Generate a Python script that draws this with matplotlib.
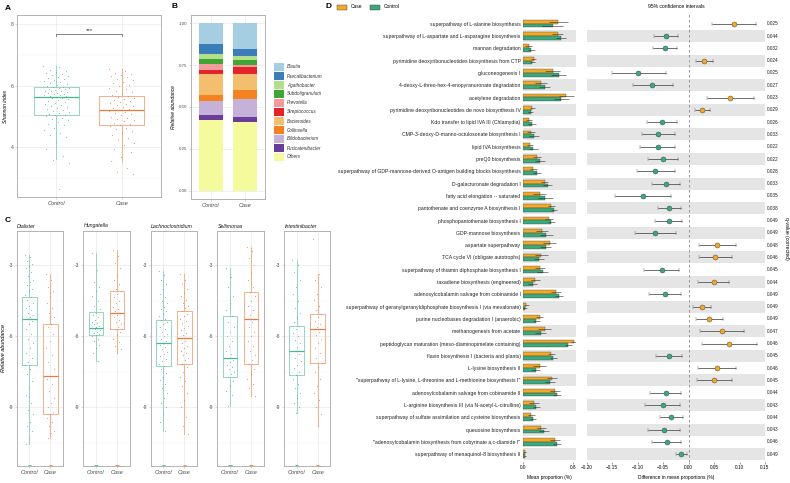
import numpy as np
import matplotlib
matplotlib.use('Agg')
import matplotlib.pyplot as plt
from matplotlib.patches import Rectangle
from matplotlib.ticker import MultipleLocator
import matplotlib.transforms as mtransforms

plt.rcParams['font.family'] = ['Liberation Sans', 'DejaVu Sans']

# ---------------- data ----------------
# A: Shannon index
a_groups = ['Control', 'Case']
a_ctrl_box = [3.6, 5.03, 5.62, 5.95, 6.64]   # whislo, q1, med, q3, whishi
a_case_box = [3.5, 4.71, 5.21, 5.67, 6.53]
a_ctrl = [6.64, 6.6, 6.52, 6.48, 6.45, 6.4, 6.38, 6.33, 6.3, 6.27, 6.24, 6.2, 6.18, 6.15, 6.12, 6.1,
          6.06, 6.03, 6.0, 5.97, 5.95, 5.93, 5.91, 5.9, 5.88, 5.86, 5.84, 5.83, 5.81, 5.79, 5.77, 5.75,
          5.73, 5.71, 5.7, 5.68, 5.66, 5.65, 5.63, 5.62, 5.6, 5.58, 5.55, 5.52, 5.5, 5.47, 5.44, 5.41,
          5.38, 5.35, 5.31, 5.28, 5.25, 5.21, 5.18, 5.14, 5.1, 5.07, 5.05, 5.03, 5.0, 4.96, 4.91, 4.87,
          4.82, 4.76, 4.7, 4.62, 4.55, 4.47, 4.4, 4.33, 4.17, 3.95, 3.72, 3.58, 3.49, 2.62]
a_case = [6.53, 6.48, 6.42, 6.38, 6.35, 6.3, 6.27, 6.22, 6.18, 6.13, 6.08, 6.03, 5.98, 5.93, 5.88, 5.83,
          5.78, 5.73, 5.7, 5.67, 5.64, 5.6, 5.57, 5.53, 5.5, 5.47, 5.44, 5.4, 5.37, 5.34, 5.3, 5.27,
          5.24, 5.21, 5.18, 5.15, 5.11, 5.07, 5.03, 4.99, 4.95, 4.91, 4.87, 4.83, 4.79, 4.75, 4.72,
          4.68, 4.62, 4.57, 4.51, 4.45, 4.38, 4.3, 4.22, 4.13, 4.05, 3.95, 3.82, 3.68, 3.55, 3.32, 3.2, 3.12]

# B: composition
b_taxa = ['Blautia', 'Faecalibacterium', 'Agathobacter', 'Subdoligranulum', 'Prevotella',
          'Streptococcus', 'Bacteroides', 'Collinsella', 'Bifidobacterium', 'Fusicatenibacter', 'Others']
b_ctrl = [0.126, 0.056, 0.030, 0.028, 0.040, 0.020, 0.131, 0.034, 0.084, 0.030, 0.421]
b_case = [0.156, 0.038, 0.024, 0.028, 0.015, 0.044, 0.092, 0.056, 0.106, 0.032, 0.409]
b_colors = ['#A6CEE3', '#3A7DB8', '#B2DF8A', '#3FA535', '#F39A9B', '#E3242B',
            '#F3BE6E', '#F58220', '#C6B1D8', '#6A3D9A', '#F5FA9C']

# C: genera (log relative abundance)
c_genera = ['Dialister', 'Hungatella', 'Lachnoclostridium', 'Sellimonas', 'Intestinibacter']
c_ctrl_box = [[-10.56, -7.23, -5.25, -4.35, -2.56],
              [-7.04, -5.93, -5.63, -4.99, -2.49],
              [-10.01, -7.27, -6.30, -5.32, -3.24],
              [-8.93, -7.71, -6.92, -5.15, -3.13],
              [-9.25, -7.65, -6.62, -5.55, -2.78]]
c_case_box = [[-10.28, -9.30, -7.68, -5.49, -3.37],
              [-6.72, -5.70, -5.03, -4.07, -2.37],
              [-10.11, -7.15, -6.08, -4.94, -3.38],
              [-8.52, -7.18, -5.25, -4.14, -2.21],
              [-9.79, -7.14, -5.70, -5.04, -3.37]]
dia_ctrl = [-2.56, -2.65, -2.8, -2.95, -3.05, -3.1, -3.3, -3.45, -3.6, -3.7, -3.85, -4.0, -4.1, -4.25,
            -4.35, -4.45, -4.6, -4.7, -4.8, -4.9, -5.0, -5.1, -5.2, -5.25, -5.35, -5.5, -5.7, -5.9,
            -6.1, -6.3, -6.5, -6.7, -6.9, -7.1, -7.23, -7.4, -7.6, -7.9, -8.2, -8.5, -8.8, -9.1,
            -9.3, -9.6, -9.8, -10.0, -10.3, -10.56]
dia_case = [-3.37, -3.6, -3.9, -4.1, -4.3, -4.6, -4.8, -5.0, -5.2, -5.49, -5.6, -5.9, -6.2, -6.5,
            -6.8, -7.1, -7.4, -7.68, -7.8, -8.0, -8.3, -8.6, -8.8, -9.0, -9.2, -9.3, -9.45, -9.6,
            -9.8, -10.0, -10.1, -10.28]
hun_ctrl = [-2.49, -3.2, -3.7, -3.9, -4.1, -4.3, -4.5, -4.7, -4.85, -5.0, -5.1, -5.2, -5.3, -5.4,
            -5.45, -5.5, -5.55, -5.6, -5.63, -5.66, -5.7, -5.75, -5.8, -5.85, -5.9, -5.93, -6.0,
            -6.1, -6.2, -6.35, -6.5, -6.7, -7.04]
hun_case = [-2.37, -2.6, -2.9, -3.1, -3.4, -3.6, -3.8, -4.0, -4.07, -4.2, -4.35, -4.5, -4.6, -4.75,
            -4.85, -4.95, -5.03, -5.1, -5.2, -5.3, -5.4, -5.5, -5.6, -5.7, -5.8, -5.95, -6.1,
            -6.25, -6.4, -6.55, -6.72]
lac_ctrl = [-3.24, -3.4, -3.6, -3.8, -4.0, -4.2, -4.35, -4.5, -4.6, -4.75, -4.85, -4.95, -5.05,
            -5.15, -5.25, -5.32, -5.4, -5.5, -5.6, -5.7, -5.8, -5.9, -6.0, -6.1, -6.2, -6.3, -6.35,
            -6.45, -6.55, -6.65, -6.75, -6.85, -6.95, -7.05, -7.15, -7.27, -7.4, -7.55, -7.7,
            -7.85, -8.0, -8.2, -8.4, -8.6, -8.8, -9.0, -9.3, -9.6, -10.01]
lac_case = [-3.38, -3.6, -3.8, -4.0, -4.15, -4.3, -4.45, -4.6, -4.7, -4.8, -4.94, -5.05, -5.15,
            -5.25, -5.35, -5.45, -5.55, -5.65, -5.75, -5.85, -5.95, -6.08, -6.2, -6.3, -6.4, -6.5,
            -6.6, -6.7, -6.8, -6.9, -7.0, -7.15, -7.3, -7.5, -7.7, -7.9, -8.1, -8.4, -8.7, -9.0,
            -9.4, -9.8, -10.11]
sel_ctrl = [-3.13, -3.5, -3.9, -4.3, -4.6, -4.9, -5.15, -5.4, -5.6, -5.8, -6.0, -6.2, -6.4, -6.6,
            -6.75, -6.92, -7.0, -7.1, -7.2, -7.3, -7.4, -7.5, -7.6, -7.71, -7.9, -8.1, -8.3, -8.5, -8.93]
sel_case = [-2.21, -2.4, -2.7, -3.0, -3.3, -3.6, -3.9, -4.14, -4.3, -4.5, -4.7, -4.9, -5.1, -5.25,
            -5.4, -5.6, -5.8, -6.0, -6.2, -6.4, -6.6, -6.8, -7.0, -7.18, -7.4, -7.6, -7.8, -8.0,
            -8.2, -8.52]
int_ctrl = [-2.78, -3.0, -3.3, -3.6, -3.9, -4.2, -4.5, -4.8, -5.0, -5.2, -5.4, -5.55, -5.7, -5.85,
            -6.0, -6.15, -6.3, -6.45, -6.62, -6.75, -6.9, -7.05, -7.2, -7.35, -7.5, -7.65, -7.8,
            -8.0, -8.2, -8.4, -8.6, -8.8, -9.0, -9.25]
int_case = [-1.9, -3.37, -3.6, -3.9, -4.2, -4.45, -4.7, -4.9, -5.04, -5.2, -5.35, -5.5, -5.6, -5.7,
            -5.8, -5.95, -6.1, -6.3, -6.5, -6.7, -6.9, -7.14, -7.3, -7.5, -7.8, -8.1, -8.4, -8.7,
            -9.0, -9.3, -9.79]
c_ctrl_pts = [dia_ctrl, hun_ctrl, lac_ctrl, sel_ctrl, int_ctrl]
c_case_pts = [dia_case, hun_case, lac_case, sel_case, int_case]
c_floor = -11.42   # zero-abundance samples drawn on the panel floor

# D: pathways
pathways = [
    'superpathway of L-alanine biosynthesis',
    'superpathway of L-aspartate and L-asparagine biosynthesis',
    'mannan degradation',
    'pyrimidine deoxyribonucleotides biosynthesis from CTP',
    'gluconeogenesis I',
    '4-deoxy-L-threo-hex-4-enopyranuronate degradation',
    'acetylene degradation',
    'pyrimidine deoxyribonucleotides de novo biosynthesis IV',
    'Kdo transfer to lipid IVA III (Chlamydia)',
    'CMP-3-deoxy-D-manno-octulosonate biosynthesis I',
    'lipid IVA biosynthesis',
    'preQ0 biosynthesis',
    'superpathway of GDP-mannose-derived O-antigen building blocks biosynthesis',
    'D-galacturonate degradation I',
    'fatty acid elongation -- saturated',
    'pantothenate and coenzyme A biosynthesis I',
    'phosphopantothenate biosynthesis I',
    'GDP-mannose biosynthesis',
    'aspartate superpathway',
    'TCA cycle VI (obligate autotrophs)',
    'superpathway of thiamin diphosphate biosynthesis I',
    'taxadiene biosynthesis (engineered)',
    'adenosylcobalamin salvage from cobinamide I',
    'superpathway of geranylgeranyldiphosphate biosynthesis I (via mevalonate)',
    'purine nucleobases degradation I (anaerobic)',
    'methanogenesis from acetate',
    'peptidoglycan maturation (meso-diaminopimelate containing)',
    'flavin biosynthesis I (bacteria and plants)',
    'L-lysine biosynthesis II',
    '"superpathway of L-lysine, L-threonine and L-methionine biosynthesis I"',
    'adenosylcobalamin salvage from cobinamide II',
    'L-arginine biosynthesis III (via N-acetyl-L-citrulline)',
    'superpathway of sulfate assimilation and cysteine biosynthesis',
    'queuosine biosynthesis',
    '"adenosylcobalamin biosynthesis from cobyrinate a,c-diamide I"',
    'superpathway of menaquinol-8 biosynthesis II',
]
case_mean = [0.56, 0.55, 0.085, 0.17, 0.47, 0.28, 0.69, 0.14, 0.09, 0.12, 0.11, 0.22, 0.16, 0.34,
             0.26, 0.45, 0.41, 0.30, 0.42, 0.29, 0.26, 0.19, 0.52, 0.05, 0.26, 0.34, 0.81, 0.45,
             0.26, 0.46, 0.50, 0.17, 0.13, 0.29, 0.50, 0.02]
ctrl_mean = [0.47, 0.60, 0.13, 0.14, 0.57, 0.34, 0.61, 0.12, 0.14, 0.17, 0.16, 0.27, 0.22, 0.39,
             0.35, 0.49, 0.45, 0.37, 0.36, 0.25, 0.31, 0.15, 0.57, 0.03, 0.21, 0.28, 0.72, 0.48,
             0.20, 0.42, 0.54, 0.21, 0.16, 0.33, 0.54, 0.03]
case_err = [0.15, 0.09, 0.05, 0.04, 0.12, 0.10, 0.12, 0.04, 0.05, 0.06, 0.05, 0.07, 0.06, 0.06,
            0.11, 0.06, 0.06, 0.09, 0.10, 0.10, 0.08, 0.07, 0.08, 0.04, 0.06, 0.10, 0.05, 0.06,
            0.10, 0.08, 0.08, 0.08, 0.05, 0.07, 0.08, 0.02]
ctrl_err = [0.17, 0.08, 0.06, 0.04, 0.12, 0.09, 0.12, 0.04, 0.06, 0.08, 0.07, 0.08, 0.07, 0.07,
            0.12, 0.05, 0.05, 0.10, 0.09, 0.08, 0.09, 0.07, 0.06, 0.03, 0.05, 0.09, 0.06, 0.06,
            0.07, 0.08, 0.06, 0.06, 0.05, 0.08, 0.06, 0.02]
diffs = [0.090, -0.044, -0.046, 0.031, -0.099, -0.071, 0.082, 0.027, -0.052, -0.060, -0.061, -0.050,
         -0.065, -0.044, -0.090, -0.038, -0.039, -0.065, 0.056, 0.052, -0.053, 0.049, -0.047, 0.027,
         0.041, 0.065, 0.080, -0.038, 0.056, 0.050, -0.044, -0.051, -0.034, -0.048, -0.043, -0.014]
ci_lo = [0.045, -0.067, -0.069, 0.014, -0.151, -0.110, 0.037, 0.012, -0.082, -0.092, -0.096, -0.079,
         -0.102, -0.071, -0.145, -0.061, -0.065, -0.106, 0.020, 0.020, -0.087, 0.018, -0.078, 0.009,
         0.014, 0.022, 0.027, -0.064, 0.019, 0.016, -0.075, -0.086, -0.057, -0.080, -0.072, -0.024]
ci_hi = [0.132, -0.021, -0.022, 0.048, -0.045, -0.031, 0.128, 0.043, -0.023, -0.026, -0.026, -0.021,
         -0.027, -0.017, -0.035, -0.014, -0.013, -0.024, 0.093, 0.086, -0.019, 0.080, -0.015, 0.044,
         0.068, 0.108, 0.135, -0.013, 0.093, 0.085, -0.014, -0.017, -0.011, -0.016, -0.014, -0.003]
qvals = ['0.025', '0.044', '0.032', '0.024', '0.025', '0.027', '0.023', '0.029', '0.026', '0.033',
         '0.022', '0.022', '0.028', '0.033', '0.035', '0.038', '0.049', '0.049', '0.048', '0.046',
         '0.045', '0.044', '0.049', '0.049', '0.049', '0.047', '0.046', '0.045', '0.046', '0.045',
         '0.044', '0.043', '0.044', '0.043', '0.046', '0.049']

# ---------------- style ----------------
W, H = 790, 483
CTRL_LINE, CASE_LINE = '#86D0B3', '#F2A47C'
CTRL_PT, CASE_PT = '#45B98E', '#EC7A40'
D_CASE, D_CTRL = '#F1A82B', '#3AA97C'
FS = 3.6


def box(l, t, r, b):
    return [l / W, 1 - b / H, (r - l) / W, (b - t) / H]


def gg(ax):
    for s in ax.spines.values():
        s.set_color('#B3B3B3')
        s.set_linewidth(0.7)
    ax.tick_params(length=1.5, width=0.4, color='#B3B3B3', labelsize=FS, labelcolor='#4D4D4D', pad=1.2)
    ax.tick_params(which='minor', length=0)
    ax.grid(True, which='major', color='#E6E6E6', lw=0.45)
    ax.grid(True, which='minor', axis='y', color='#F2F2F2', lw=0.3)
    ax.set_axisbelow(True)


def boxjit(ax, pos, st, vals, line, pt):
    s = dict(whislo=st[0], q1=st[1], med=st[2], q3=st[3], whishi=st[4], fliers=[])
    ax.bxp([s], positions=[pos], widths=0.7, showfliers=False, manage_ticks=False,
           boxprops=dict(color=line, lw=0.6), whiskerprops=dict(color=line, lw=0.6),
           capprops=dict(lw=0), medianprops=dict(color=pt, lw=0.9))
    n = len(vals)
    off = ((np.arange(n) * 0.618034) % 1 - 0.5) * 0.4
    ax.scatter(pos + off, vals, s=0.7, color=pt, alpha=0.75, lw=0, zorder=3)


fig = plt.figure(figsize=(7.9, 4.83), dpi=100)

# ---------------- A ----------------
axA = fig.add_axes(box(17.3, 15, 160.7, 197))
gg(axA)
boxjit(axA, 1, a_ctrl_box, a_ctrl, CTRL_LINE, CTRL_PT)
boxjit(axA, 2, a_case_box, a_case, CASE_LINE, CASE_PT)
axA.set_xlim(0.4, 2.6)
axA.set_ylim(2.37, 8.3)
axA.set_yticks([4, 6, 8])
axA.yaxis.set_minor_locator(MultipleLocator(1))
axA.set_xticks([1, 2])
axA.set_xticklabels(a_groups, fontstyle='italic', fontsize=4)
axA.plot([1, 1, 2, 2], [7.6, 7.68, 7.68, 7.6], color='#555555', lw=0.5)
axA.text(1.5, 7.72, '***', ha='center', va='bottom', fontsize=4.5, color='#333333')
axA.set_ylabel('Shannon index', fontsize=FS, fontstyle='italic', labelpad=2)
fig.text(5 / W, 1 - 8 / H, 'A', fontsize=6, fontweight='bold', va='center')

# ---------------- B ----------------
axB = fig.add_axes(box(190.7, 15, 265, 199))
gg(axB)
bottom_c, bottom_k = 0.0, 0.0
for name, vc, vk, col in zip(b_taxa[::-1], b_ctrl[::-1], b_case[::-1], b_colors[::-1]):
    axB.bar([1, 2], [vc, vk], bottom=[bottom_c, bottom_k], width=0.71, color=col, lw=0)
    bottom_c += vc
    bottom_k += vk
axB.set_xlim(0.4, 2.6)
axB.set_ylim(-0.05, 1.05)
axB.set_yticks([0, 0.25, 0.5, 0.75, 1.0])
axB.set_yticklabels(['0.00', '0.25', '0.50', '0.75', '1.00'], fontsize=3.2)
axB.set_xticks([1, 2])
axB.set_xticklabels(a_groups, fontstyle='italic', fontsize=4)
axB.set_ylabel('Relative abundance', fontsize=FS, fontstyle='italic', labelpad=2)
fig.text(171 / W, 1 - 7 / H, 'B', fontsize=6, fontweight='bold', va='center')
for i, (name, col) in enumerate(zip(b_taxa, b_colors)):
    yc = 67 + 9 * i
    fig.add_artist(Rectangle((274 / W, 1 - (yc + 4.3) / H), 9.5 / W, 8.6 / H,
                             transform=fig.transFigure, facecolor=col, lw=0))
    fig.text(287 / W, 1 - yc / H, name, fontsize=3.3, fontstyle='italic', va='center', color='#333333')

# ---------------- C ----------------
c_lefts = [16.7, 83.3, 150.7, 217.3, 284.0]
for k, g in enumerate(c_genera):
    ax = fig.add_axes(box(c_lefts[k], 231, c_lefts[k] + 46.3, 466))
    gg(ax)
    boxjit(ax, 1, c_ctrl_box[k], c_ctrl_pts[k], CTRL_LINE, CTRL_PT)
    boxjit(ax, 2, c_case_box[k], c_case_pts[k], CASE_LINE, CASE_PT)
    ax.scatter([1, 2], [c_floor, c_floor], marker='_', s=6, lw=0.6, color=[CTRL_PT, CASE_PT], zorder=3, clip_on=False)
    ax.set_xlim(0.4, 2.6)
    ax.set_ylim(-11.48, -1.55)
    ax.set_yticks([-3, -6, -9])
    ax.set_yticklabels(['-3', '-6', '-9'])
    ax.yaxis.set_minor_locator(MultipleLocator(1.5))
    ax.set_xticks([1, 2])
    ax.set_xticklabels(a_groups, fontstyle='italic', fontsize=4)
    fig.text((c_lefts[k] + 0.5) / W, 1 - 227.5 / H, g, fontsize=3.8, fontstyle='italic',
             va='baseline', color='#1A1A1A')
fig.text(4 / W, 1 - 348 / H, 'Relative abundance', fontsize=4, fontstyle='italic',
         rotation=90, va='center', ha='center')
fig.text(5 / W, 1 - 221 / H, 'C', fontsize=6, fontweight='bold', va='center')

# ---------------- D ----------------
n = len(pathways)
ypos = np.arange(n)
ylim = (35.63, -0.87)
axM = fig.add_axes(box(523.3, 13, 575.7, 462))
axD = fig.add_axes(box(586.7, 13, 765, 462))
for ax in (axM, axD):
    for s in ax.spines.values():
        s.set_visible(False)
    ax.set_ylim(*ylim)
    for i in ypos[1::2]:
        ax.axhspan(i - 0.49, i + 0.49, color='#E5E5E5', lw=0, zorder=0)
    ax.tick_params(axis='x', length=1.5, width=0.4, labelsize=3.4, pad=1, color='#555555')

axM.set_xlim(0, 0.838)
axM.barh(ypos - 0.16, case_mean, height=0.31, color=D_CASE, edgecolor='#3A3A3A', lw=0.25, zorder=2)
axM.barh(ypos + 0.15, ctrl_mean, height=0.31, color=D_CTRL, edgecolor='#3A3A3A', lw=0.25, zorder=2)
axM.hlines(ypos - 0.16, np.array(case_mean) - case_err, np.array(case_mean) + case_err,
           color='#2A2A2A', lw=0.6, alpha=0.65, zorder=3)
axM.hlines(ypos + 0.15, np.array(ctrl_mean) - ctrl_err, np.array(ctrl_mean) + ctrl_err,
           color='#2A2A2A', lw=0.6, alpha=0.65, zorder=3)
axM.set_yticks(ypos)
axM.set_yticklabels(pathways, fontsize=3.7, color='#222222')
axM.tick_params(axis='y', length=0, pad=2)
axM.set_xticks([0, 0.8])
axM.set_xticklabels(['0.0', '0.8'])
axM.set_xlabel('Mean proportion (%)', fontsize=3.5, labelpad=3)

axD.set_xlim(-0.2, 0.15)
axD.axvline(0, color='#8A8A8A', lw=0.6, ls=(0, (3, 3)), zorder=1)
for i in ypos:
    col = D_CASE if diffs[i] > 0 else D_CTRL
    axD.errorbar(diffs[i], i, xerr=[[diffs[i] - ci_lo[i]], [ci_hi[i] - diffs[i]]], fmt='o',
                 color='#555555', ecolor='#555555', elinewidth=0.6, capsize=1.3, capthick=0.5,
                 ms=3.6, mfc=col, mec='#3A3A3A', mew=0.3, zorder=3)
    axD.text(1.011, i, qvals[i], transform=mtransforms.blended_transform_factory(axD.transAxes, axD.transData),
             fontsize=3.4, va='center', ha='left', color='#222222')
axD.set_yticks([])
axD.set_xticks([-0.2, -0.15, -0.1, -0.05, 0, 0.05, 0.1, 0.15])
axD.set_xticklabels(['\u22120.20', '\u22120.15', '\u22120.10', '\u22120.05', '0.00', '0.05', '0.10', '0.15'])
axD.set_xlabel('Difference in mean proportions (%)', fontsize=3.5, labelpad=3)

fig.text(676 / W, 1 - 7 / H, '95% confidence intervals', fontsize=3.6, ha='center', va='center')
fig.text(786 / W, 1 - 238 / H, 'q-value (corrected)', fontsize=3.6, rotation=270, ha='center', va='center')
fig.text(325 / W, 1 - 7 / H, 'D', fontsize=6, fontweight='bold', va='center')
fig.add_artist(Rectangle((337 / W, 1 - 9.5 / H), 10 / W, 5 / H, transform=fig.transFigure,
                         facecolor=D_CASE, edgecolor='#3A3A3A', lw=0.3))
fig.text(351 / W, 1 - 7 / H, 'Case', fontsize=3.5, va='center')
fig.add_artist(Rectangle((370 / W, 1 - 9.5 / H), 10 / W, 5 / H, transform=fig.transFigure,
                         facecolor=D_CTRL, edgecolor='#3A3A3A', lw=0.3))
fig.text(384 / W, 1 - 7 / H, 'Control', fontsize=3.5, va='center')

fig.savefig('out.png', dpi=100)
